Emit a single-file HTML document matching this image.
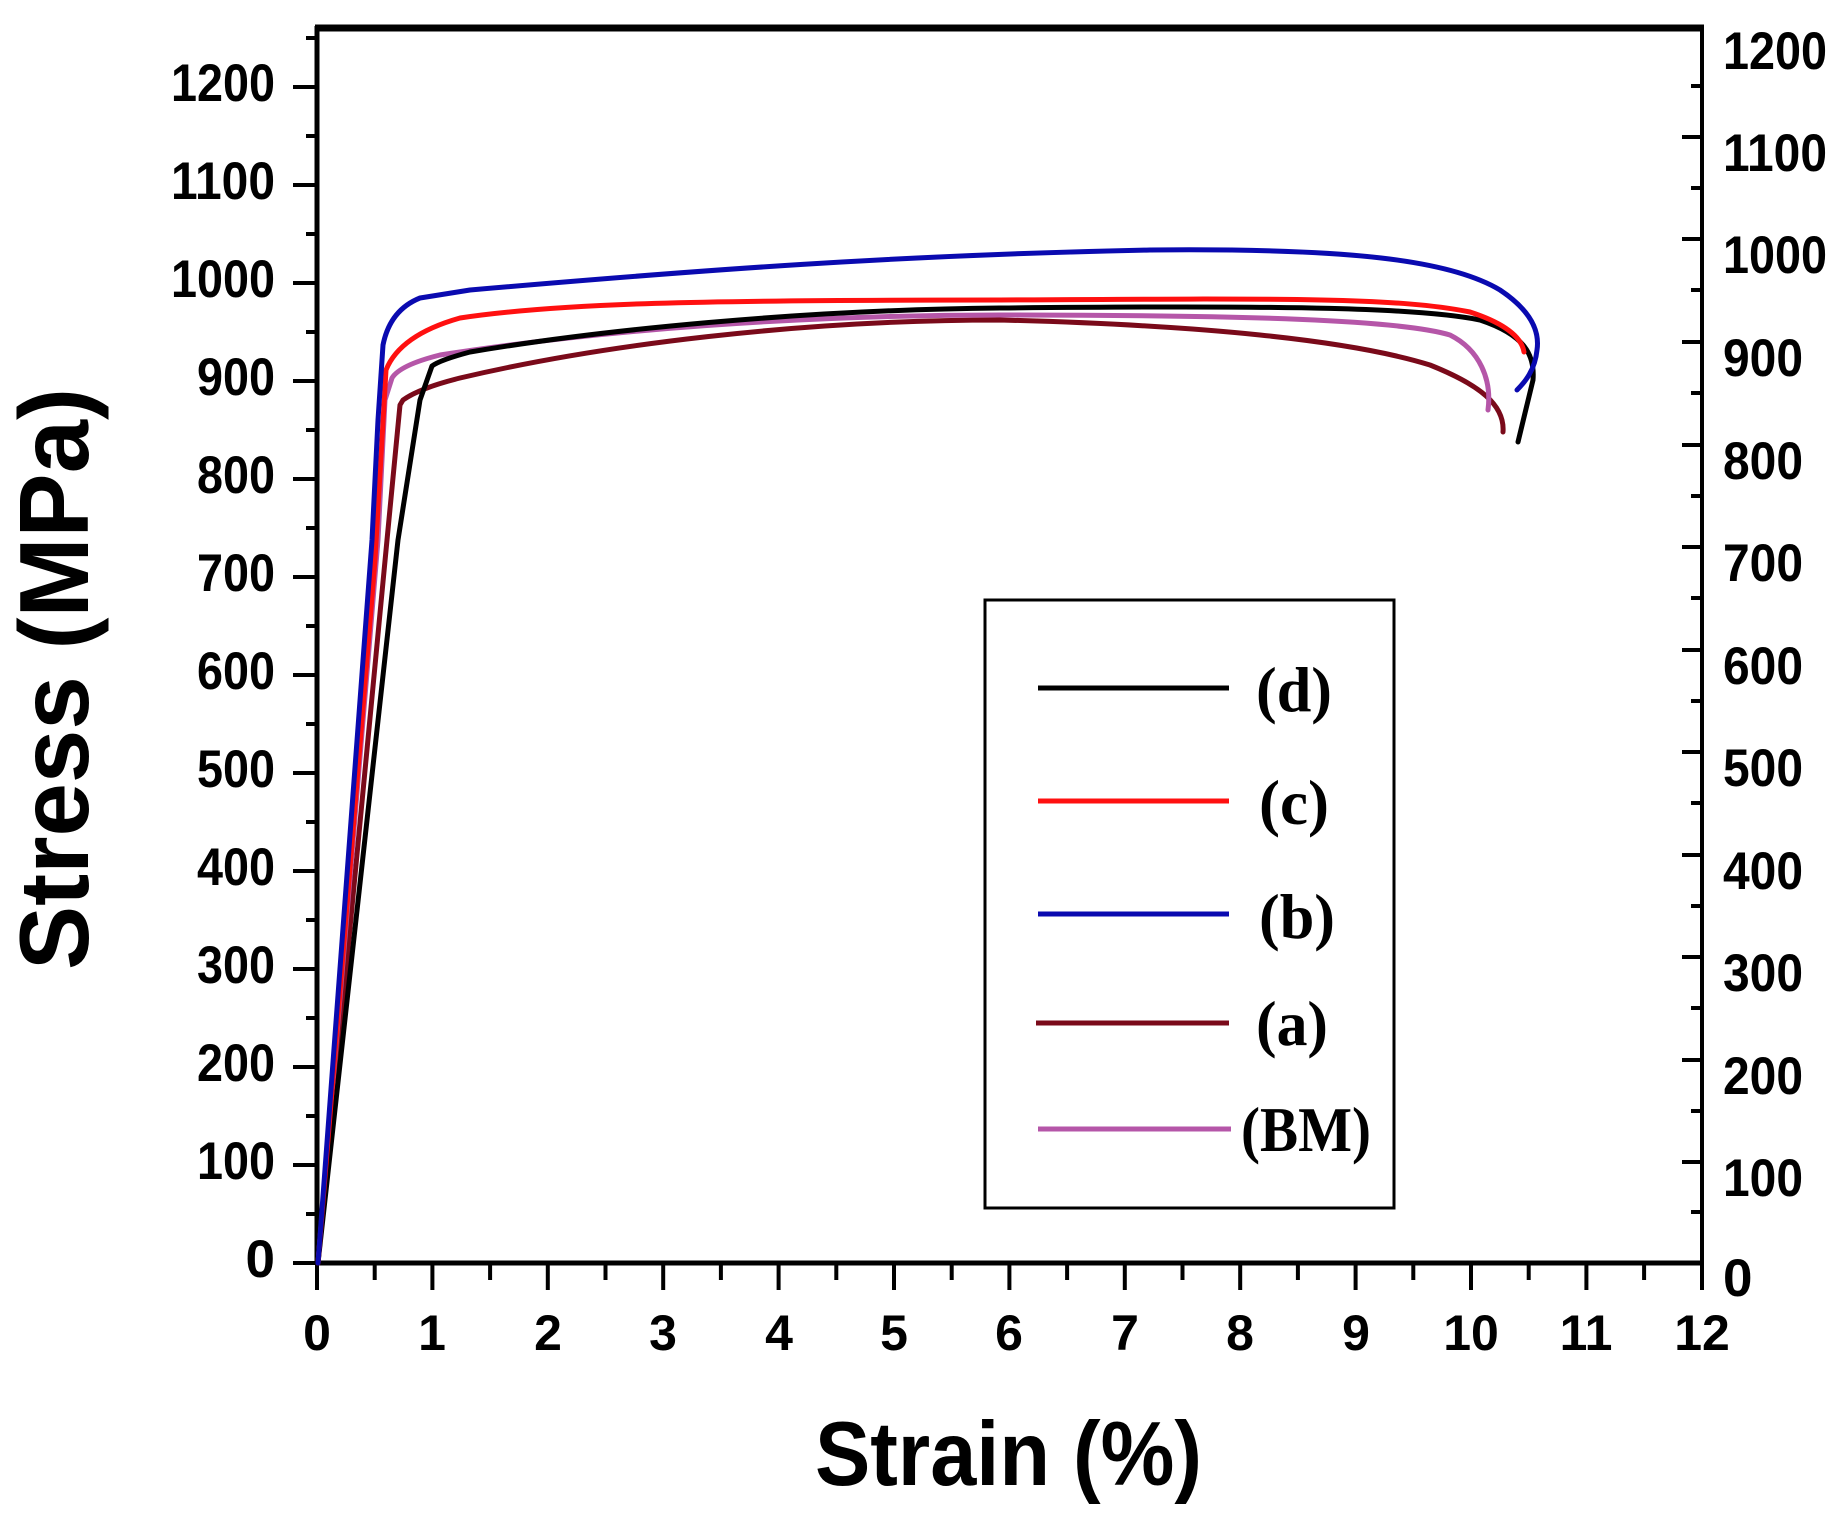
<!DOCTYPE html>
<html><head><meta charset="utf-8"><style>html,body{margin:0;padding:0;background:#fff}svg{display:block}</style></head>
<body>
<svg width="1844" height="1520" viewBox="0 0 1844 1520" xmlns="http://www.w3.org/2000/svg" font-family="Liberation Sans, Arial, sans-serif" font-weight="bold">
<rect width="1844" height="1520" fill="#fff"/>
<line x1="315" y1="28" x2="1704" y2="28" stroke="#000" stroke-width="7"/>
<line x1="317" y1="26" x2="317" y2="1265" stroke="#000" stroke-width="5"/>
<line x1="1702" y1="26" x2="1702" y2="1290" stroke="#000" stroke-width="4"/>
<line x1="315" y1="1263" x2="1704" y2="1263" stroke="#000" stroke-width="5"/>
<g stroke="#000" stroke-width="4">
<path d="M293,1263H317M293,1165H317M293,1067H317M293,969H317M293,871H317M293,773H317M293,675H317M293,577H317M293,479H317M293,381H317M293,283H317M293,185H317M293,87H317"/>
<path d="M306,1214H317M306,1116H317M306,1018H317M306,920H317M306,822H317M306,724H317M306,626H317M306,528H317M306,430H317M306,332H317M306,234H317M306,136H317M306,38H317"/>
<path d="M317,1263V1290M432.4,1263V1290M547.8,1263V1290M663.2,1263V1290M778.6,1263V1290M894,1263V1290M1009.4,1263V1290M1124.8,1263V1290M1240.2,1263V1290M1355.6,1263V1290M1471,1263V1290M1586.4,1263V1290M1702,1263V1290"/>
<path d="M374.7,1263V1280M490.1,1263V1280M605.5,1263V1280M720.9,1263V1280M836.3,1263V1280M951.7,1263V1280M1067.1,1263V1280M1182.5,1263V1280M1297.9,1263V1280M1413.3,1263V1280M1528.7,1263V1280M1644.1,1263V1280"/>
<path d="M1682,1162H1702M1682,1060H1702M1682,957H1702M1682,855H1702M1682,752H1702M1682,650H1702M1682,547H1702M1682,445H1702M1682,342H1702M1682,239H1702M1682,137H1702"/>
<path d="M1691,1212H1702M1691,1111H1702M1691,1008H1702M1691,906H1702M1691,803H1702M1691,701H1702M1691,598H1702M1691,496H1702M1691,393H1702M1691,290H1702M1691,188H1702M1691,86H1702"/>
</g>
<g font-size="53" text-anchor="end" fill="#000">
<text x="275" y="1277">0</text>
<text x="275" y="1179" textLength="78" lengthAdjust="spacingAndGlyphs">100</text>
<text x="275" y="1081" textLength="78" lengthAdjust="spacingAndGlyphs">200</text>
<text x="275" y="983" textLength="78" lengthAdjust="spacingAndGlyphs">300</text>
<text x="275" y="885" textLength="78" lengthAdjust="spacingAndGlyphs">400</text>
<text x="275" y="787" textLength="78" lengthAdjust="spacingAndGlyphs">500</text>
<text x="275" y="689" textLength="78" lengthAdjust="spacingAndGlyphs">600</text>
<text x="275" y="591" textLength="78" lengthAdjust="spacingAndGlyphs">700</text>
<text x="275" y="493" textLength="78" lengthAdjust="spacingAndGlyphs">800</text>
<text x="275" y="395" textLength="78" lengthAdjust="spacingAndGlyphs">900</text>
<text x="275" y="297" textLength="104" lengthAdjust="spacingAndGlyphs">1000</text>
<text x="275" y="199" textLength="104" lengthAdjust="spacingAndGlyphs">1100</text>
<text x="275" y="101" textLength="104" lengthAdjust="spacingAndGlyphs">1200</text>
</g>
<g font-size="53" fill="#000">
<text x="1723" y="1296">0</text>
<text x="1723" y="1196" textLength="80" lengthAdjust="spacingAndGlyphs">100</text>
<text x="1723" y="1094" textLength="80" lengthAdjust="spacingAndGlyphs">200</text>
<text x="1723" y="991" textLength="80" lengthAdjust="spacingAndGlyphs">300</text>
<text x="1723" y="889" textLength="80" lengthAdjust="spacingAndGlyphs">400</text>
<text x="1723" y="786" textLength="80" lengthAdjust="spacingAndGlyphs">500</text>
<text x="1723" y="684" textLength="80" lengthAdjust="spacingAndGlyphs">600</text>
<text x="1723" y="581" textLength="80" lengthAdjust="spacingAndGlyphs">700</text>
<text x="1723" y="479" textLength="80" lengthAdjust="spacingAndGlyphs">800</text>
<text x="1723" y="376" textLength="80" lengthAdjust="spacingAndGlyphs">900</text>
<text x="1723" y="273" textLength="104" lengthAdjust="spacingAndGlyphs">1000</text>
<text x="1723" y="171" textLength="104" lengthAdjust="spacingAndGlyphs">1100</text>
<text x="1723" y="69" textLength="104" lengthAdjust="spacingAndGlyphs">1200</text>
</g>
<g font-size="50" text-anchor="middle" fill="#000">
<text x="317" y="1350">0</text><text x="432" y="1350">1</text><text x="548" y="1350">2</text><text x="663" y="1350">3</text><text x="779" y="1350">4</text><text x="894" y="1350">5</text><text x="1009" y="1350">6</text><text x="1125" y="1350">7</text><text x="1240" y="1350">8</text><text x="1356" y="1350">9</text><text x="1471" y="1350">10</text><text x="1586" y="1350">11</text><text x="1702" y="1350">12</text>
</g>
<text x="815" y="1485" font-size="91" textLength="387" lengthAdjust="spacingAndGlyphs" fill="#000">Strain (%)</text>
<text transform="translate(88,970) rotate(-90)" x="0" y="0" font-size="98" textLength="582" lengthAdjust="spacingAndGlyphs" fill="#000">Stress (MPa)</text>
<g fill="none" stroke-width="5" stroke-linejoin="round" stroke-linecap="round">
<path stroke="#7a0a1a" d="M318,1263 L387,540 L400,405 L403,400 Q420,388 460,378 C600,345 800,320 1000,320 C1200,325 1350,340 1430,365 C1480,385 1505,405 1503,432"/>
<path stroke="#b556a8" d="M318,1263 L378,540 L385,400 L392,378 Q400,365 440,355 C600,330 800,315 1000,315 C1250,315 1400,320 1450,335 C1480,350 1492,380 1488,410"/>
<path stroke="#000" d="M318,1263 L398,540 L420,400 L432,366 Q440,360 470,352 C600,330 800,310 1000,308 C1300,305 1420,308 1480,320 C1525,335 1535,355 1533,380 L1518,442"/>
<path stroke="#ff1010" d="M318,1263 L375,560 L386,370 Q400,335 460,318 C560,303 700,300 1000,300 C1300,298 1400,298 1470,312 C1510,325 1522,340 1524,352"/>
<path stroke="#0a0ab0" d="M318,1263 L372,540 L378,420 L383,345 Q390,310 420,298 L470,290 C700,270 900,255 1150,250 C1350,248 1450,260 1500,290 C1530,310 1540,330 1537,350 C1535,370 1525,382 1517,390"/>
</g>
<rect x="985" y="600" width="409" height="608" fill="none" stroke="#000" stroke-width="3"/>
<g stroke-width="5">
<line x1="1038" y1="688" x2="1229" y2="688" stroke="#000"/>
<line x1="1038" y1="801" x2="1229" y2="801" stroke="#ff1010"/>
<line x1="1038" y1="914" x2="1229" y2="914" stroke="#0a0ab0"/>
<line x1="1036" y1="1023" x2="1229" y2="1023" stroke="#7a0a1a"/>
<line x1="1038" y1="1129" x2="1231" y2="1129" stroke="#b556a8"/>
</g>
<g font-family="Liberation Serif, Times New Roman, serif" font-weight="bold" font-size="64" fill="#000">
<text x="1256" y="711" textLength="76" lengthAdjust="spacingAndGlyphs">(d)</text>
<text x="1259" y="824" textLength="70" lengthAdjust="spacingAndGlyphs">(c)</text>
<text x="1259" y="938" textLength="76" lengthAdjust="spacingAndGlyphs">(b)</text>
<text x="1256" y="1045" textLength="72" lengthAdjust="spacingAndGlyphs">(a)</text>
<text x="1241" y="1151" textLength="130" lengthAdjust="spacingAndGlyphs">(BM)</text>
</g>
</svg>
</body></html>
